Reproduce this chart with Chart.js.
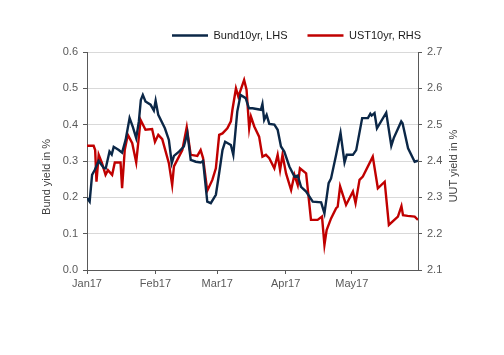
<!DOCTYPE html>
<html><head><meta charset="utf-8">
<script src="https://cdn.jsdelivr.net/npm/chart.js@4/dist/chart.umd.min.js"></script>
<style>html,body{margin:0;padding:0;background:#fff}#wrap{width:504px;height:355px}</style>
</head><body><div id="wrap"><canvas id="c" width="504" height="355"></canvas></div>
<script>
// x values: days since 1 Jan 2017
const bundDays = [0,1.2,2.3,3.5,5.3,7.6,8.5,10.2,11.2,12.1,14.4,15.9,17.5,19.3,20.8,22.3,23.5,24.4,25.3,26.5,28.8,30.3,31.1,32.3,35.3,37.1,38.4,39.4,41.7,43.9,45.5,47,49.3,51.5,52.6,54.5,56.1,58.4,59.9,61.4,62.6,65.2,66.3,68.1,69.6,71.9,73.4,75,78.8,79.5,80.3,81.4,82.6,84.9,86.4,87.9,89.4,91.7,94,95.5,97,99.3,102.3,106.1,107.6,109.5,110.6,112.9,114.9,116.7,117.7,120.5,122,124.7,127.3,128.4,129,130.3,131.4,135.6,137.9,139,142.4,143,145.5,148.5,150];
const bundYield = [0.198,0.188,0.262,0.275,0.30,0.281,0.28,0.326,0.318,0.339,0.33,0.323,0.358,0.418,0.393,0.363,0.409,0.468,0.482,0.464,0.455,0.439,0.466,0.427,0.39,0.358,0.294,0.314,0.326,0.34,0.377,0.303,0.298,0.296,0.30,0.188,0.184,0.207,0.267,0.33,0.353,0.344,0.317,0.436,0.482,0.473,0.445,0.445,0.441,0.457,0.413,0.427,0.402,0.40,0.386,0.34,0.326,0.285,0.257,0.26,0.229,0.216,0.188,0.186,0.156,0.239,0.252,0.317,0.377,0.296,0.317,0.317,0.33,0.418,0.418,0.43,0.425,0.432,0.39,0.433,0.342,0.363,0.409,0.404,0.335,0.298,0.301];
const ustDays = [0,3,3.7,4.3,5.3,6.8,8.4,9.5,11.4,12.6,15.2,15.9,17.1,18.5,20.5,22.3,24.3,26.5,29.5,30.8,32.3,34.1,37.1,38.6,39.4,43.2,45.2,47,50,51.5,52.6,54.5,56.8,58.4,59.9,61.4,63.6,65.2,65.9,67.5,68.6,71.2,72.3,73.5,74.3,75.8,78,79.5,81.1,82.6,84.9,86.4,87.5,88.6,90.2,92.5,94,95.5,96.5,99.3,101.5,104.5,106.5,107.6,108.6,110.6,112.9,113.6,114.7,117.4,120.5,121.7,123.5,125,129.5,131.8,134.9,136.8,140.9,142.5,143.2,145.3,148.5,150];
const ustYield = [2.442,2.442,2.43,2.343,2.417,2.394,2.362,2.375,2.362,2.396,2.396,2.325,2.43,2.472,2.449,2.396,2.513,2.486,2.488,2.453,2.472,2.46,2.394,2.334,2.385,2.43,2.493,2.417,2.414,2.43,2.408,2.318,2.348,2.38,2.472,2.476,2.49,2.509,2.541,2.6,2.577,2.623,2.596,2.49,2.522,2.495,2.467,2.412,2.417,2.408,2.38,2.417,2.375,2.417,2.366,2.32,2.362,2.334,2.38,2.366,2.238,2.238,2.247,2.169,2.21,2.242,2.27,2.274,2.33,2.279,2.316,2.284,2.348,2.357,2.412,2.325,2.343,2.224,2.247,2.276,2.251,2.249,2.247,2.238];
const monthStarts = [0,31,59,90,120];
const monthLabels = ['Jan17','Feb17','Mar17','Apr17','May17'];
const leftTicks = [0,0.1,0.2,0.3,0.4,0.5,0.6];
const rightTicks = [2.1,2.2,2.3,2.4,2.5,2.6,2.7];
const seriesNames = ['Bund10yr, LHS','UST10yr, RHS'];
const leftTitle = 'Bund yield in %';
const rightTitle = 'UUT yield in %';

const FONT = "'Liberation Sans', Arial, sans-serif";
const AXIS = '#595959';
const NAVY = '#0b2747';
const RED = '#c00000';

const toPts = (xs, ys) => xs.map((x, i) => ({x, y: ys[i]}));

const titlePlugin = {
  id: 'axisTitles',
  afterDraw(chart) {
    const ctx = chart.ctx;
    ctx.save();
    ctx.font = '11px ' + FONT;
    ctx.fillStyle = '#404040';
    ctx.textAlign = 'center';
    ctx.textBaseline = 'middle';
    ctx.translate(47, 177);
    ctx.rotate(-Math.PI / 2);
    ctx.fillText(leftTitle, 0, 0);
    ctx.restore();
    ctx.save();
    ctx.font = '11px ' + FONT;
    ctx.fillStyle = '#404040';
    ctx.textAlign = 'center';
    ctx.textBaseline = 'middle';
    ctx.translate(454, 166);
    ctx.rotate(-Math.PI / 2);
    ctx.fillText(rightTitle, 0, 0);
    ctx.restore();
  }
};
const legendShift = {
  id: 'legendShift',
  afterLayout(chart) {
    const lg = chart.legend;
    lg.left = 172 - lg.options.labels.padding;
    lg.top = 10;
  }
};

new Chart(document.getElementById('c'), {
  type: 'line',
  data: {
    datasets: [
      {label: seriesNames[0], data: toPts(bundDays, bundYield), borderColor: NAVY, backgroundColor: NAVY, borderWidth: 2.4, pointRadius: 0, tension: 0, yAxisID: 'y'},
      {label: seriesNames[1], data: toPts(ustDays, ustYield), borderColor: RED, backgroundColor: RED, borderWidth: 2.4, pointRadius: 0, tension: 0, yAxisID: 'y1'}
    ]
  },
  options: {
    responsive: false,
    animation: false,
    devicePixelRatio: 1,
    layout: {padding: {top: 11}},
    plugins: {
      tooltip: {enabled: false},
      legend: {
        position: 'top',
        align: 'start',
        labels: {
          boxWidth: 36, boxHeight: 2.5, padding: 20,
          color: '#1a1a1a',
          font: {family: FONT, size: 11},
          generateLabels(chart) {
            return chart.data.datasets.map((ds, i) => ({
              text: ds.label, fillStyle: ds.borderColor, strokeStyle: ds.borderColor,
              lineWidth: 0, hidden: false, datasetIndex: i, fontColor: '#1a1a1a'
            }));
          }
        }
      }
    },
    scales: {
      x: {
        type: 'linear', min: 0, max: 150,
        afterBuildTicks(axis) { axis.ticks = monthStarts.map(v => ({value: v})); },
        afterFit(axis) { axis.height = 85; },
        ticks: {
          autoSkip: false, maxRotation: 0, padding: 3, color: AXIS,
          font: {family: FONT, size: 11},
          callback(v) { const i = monthStarts.indexOf(v); return i >= 0 ? monthLabels[i] : ''; }
        },
        grid: {drawOnChartArea: false, drawTicks: true, tickLength: 4, color: AXIS},
        border: {color: AXIS, width: 1}
      },
      y: {
        position: 'left', min: 0, max: 0.6,
        afterBuildTicks(axis) { axis.ticks = leftTicks.map(v => ({value: v})); },
        afterFit(axis) { axis.width = 87; },
        ticks: {padding: 5, color: AXIS, font: {family: FONT, size: 11}, callback: v => Number(v).toFixed(1)},
        grid: {color: '#d9d9d9', lineWidth: 1, drawTicks: true, tickLength: 4, tickColor: AXIS},
        border: {color: AXIS, width: 1}
      },
      y1: {
        position: 'right', min: 2.1, max: 2.7,
        afterBuildTicks(axis) { axis.ticks = rightTicks.map(v => ({value: v})); },
        afterFit(axis) { axis.width = 86; },
        ticks: {padding: 5, color: AXIS, font: {family: FONT, size: 11}, callback: v => Number(v).toFixed(1)},
        grid: {drawOnChartArea: false, drawTicks: true, tickLength: 4, tickColor: AXIS, color: AXIS},
        border: {color: AXIS, width: 1}
      }
    }
  },
  plugins: [titlePlugin, legendShift]
});
</script>
</body></html>
